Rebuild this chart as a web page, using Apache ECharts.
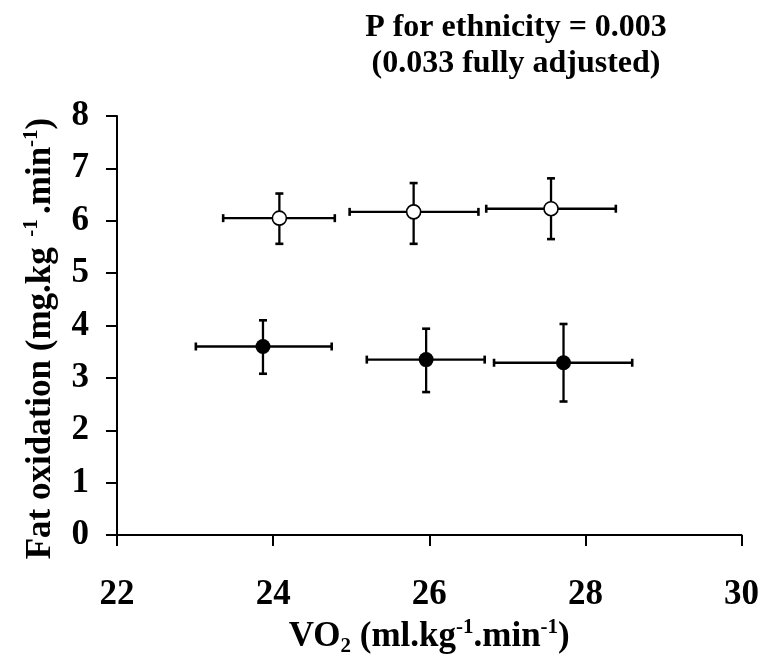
<!DOCTYPE html>
<html>
<head>
<meta charset="utf-8">
<script src="https://cdn.jsdelivr.net/npm/echarts@6/dist/echarts.min.js"></script>
<style>
  html, body { margin: 0; padding: 0; background: #fff; }
  #chart { width: 762px; height: 662px; }
</style>
</head>
<body>
<div id="chart"></div>
<script>
// ---- Data ----
const xTicks = [22, 24, 26, 28, 30];
const yTicks = [0, 1, 2, 3, 4, 5, 6, 7, 8];

// Open circles
const vo2Open    = [24.08, 25.80, 27.56];
const fatOpen    = [6.05, 6.17, 6.23];
const vo2OpenLo  = [23.36, 24.98, 26.73];
const vo2OpenHi  = [24.79, 26.63, 28.39];
const fatOpenLo  = [5.56, 5.56, 5.65];
const fatOpenHi  = [6.52, 6.72, 6.81];

// Filled circles
const vo2Filled   = [23.87, 25.96, 27.72];
const fatFilled   = [3.60, 3.35, 3.29];
const vo2FilledLo = [23.01, 25.20, 26.83];
const vo2FilledHi = [24.75, 26.71, 28.60];
const fatFilledLo = [3.08, 2.73, 2.55];
const fatFilledHi = [4.10, 3.94, 4.03];

const titleLines = ['P for ethnicity = 0.003', '(0.033 fully adjusted)'];

// ---- Build ----
const FONT = '"Liberation Serif", "Times New Roman", serif';

function errData(x, y, xlo, xhi, ylo, yhi) {
  return x.map((v, i) => [v, y[i], xlo[i], xhi[i], ylo[i], yhi[i]]);
}
const openErr = errData(vo2Open, fatOpen, vo2OpenLo, vo2OpenHi, fatOpenLo, fatOpenHi);
const filledErr = errData(vo2Filled, fatFilled, vo2FilledLo, vo2FilledHi, fatFilledLo, fatFilledHi);

function renderErr(params, api) {
  const y = api.value(1), x = api.value(0);
  const l = api.coord([api.value(2), y]);
  const r = api.coord([api.value(3), y]);
  const b = api.coord([x, api.value(4)]);
  const t = api.coord([x, api.value(5)]);
  const cap = 4;
  const st = { stroke: '#000', lineWidth: 2.3 };
  const capSt = { stroke: '#000', lineWidth: 2.6 };
  return {
    type: 'group',
    children: [
      { type: 'line', shape: { x1: l[0], y1: l[1], x2: r[0], y2: r[1] }, style: st },
      { type: 'line', shape: { x1: l[0], y1: l[1] - cap, x2: l[0], y2: l[1] + cap }, style: capSt },
      { type: 'line', shape: { x1: r[0], y1: r[1] - cap, x2: r[0], y2: r[1] + cap }, style: capSt },
      { type: 'line', shape: { x1: t[0], y1: t[1], x2: b[0], y2: b[1] }, style: st },
      { type: 'line', shape: { x1: t[0] - cap, y1: t[1], x2: t[0] + cap, y2: t[1] }, style: capSt },
      { type: 'line', shape: { x1: b[0] - cap, y1: b[1], x2: b[0] + cap, y2: b[1] }, style: capSt }
    ]
  };
}

const richStyles = {
  m:   { fontSize: 35, fontWeight: 'bold', fontFamily: FONT, color: '#000', lineHeight: 40 },
  sup: { fontSize: 21, fontWeight: 'bold', fontFamily: FONT, color: '#000', lineHeight: 22, verticalAlign: 'top' },
  sub: { fontSize: 21, fontWeight: 'bold', fontFamily: FONT, color: '#000', lineHeight: 22, verticalAlign: 'bottom' }
};

const chart = echarts.init(document.getElementById('chart'), null, { renderer: 'canvas' });

chart.setOption({
  animation: false,
  backgroundColor: '#fff',
  grid: { left: 117, right: 20, top: 116, bottom: 116, containLabel: false },
  graphic: [
    {
      type: 'text', x: 516, y: 10,
      style: {
        text: titleLines.join('\n'),
        fontSize: 32, fontWeight: 'bold', fontFamily: FONT, fill: '#000',
        align: 'center', lineHeight: 36
      }
    }
  ],
  xAxis: {
    type: 'value',
    min: xTicks[0], max: xTicks[xTicks.length - 1], interval: 2,
    splitLine: { show: false },
    axisLine: { show: true, onZero: false, lineStyle: { color: '#000', width: 2 } },
    axisTick: { show: true, inside: false, length: 11, lineStyle: { color: '#000', width: 2 } },
    axisLabel: { fontSize: 35, fontWeight: 'bold', fontFamily: FONT, color: '#000', margin: 42 },
    name: '{m|VO}{sub|2}{m| (ml.kg}{sup|-1}{m|.min}{sup|-1}{m|)}',
    nameLocation: 'middle',
    nameGap: 72,
    nameTextStyle: { rich: richStyles }
  },
  yAxis: {
    type: 'value',
    min: yTicks[0], max: yTicks[yTicks.length - 1], interval: 1,
    splitLine: { show: false },
    axisLine: { show: true, onZero: false, lineStyle: { color: '#000', width: 2 } },
    axisTick: { show: true, inside: false, length: 11, lineStyle: { color: '#000', width: 2 } },
    axisLabel: { fontSize: 35, fontWeight: 'bold', fontFamily: FONT, color: '#000', margin: 28 },
    name: '{m|Fat oxidation (mg.kg}{sup|  -1 }{m|.min}{sup|-1}{m|)}',
    nameLocation: 'middle',
    nameRotate: 90,
    nameGap: 56,
    nameTextStyle: { rich: richStyles, padding: [0, 26, 0, 0] }
  },
  series: [
    { type: 'custom', renderItem: renderErr, data: openErr, z: 2, silent: true },
    { type: 'custom', renderItem: renderErr, data: filledErr, z: 2, silent: true },
    {
      type: 'scatter', z: 5,
      data: vo2Open.map((v, i) => [v, fatOpen[i]]),
      symbol: 'circle', symbolSize: 14,
      itemStyle: { color: '#fff', borderColor: '#000', borderWidth: 1.6, opacity: 1 }
    },
    {
      type: 'scatter', z: 5,
      data: vo2Filled.map((v, i) => [v, fatFilled[i]]),
      symbol: 'circle', symbolSize: 15,
      itemStyle: { color: '#000', borderColor: '#000', borderWidth: 0, opacity: 1 }
    }
  ]
});
</script>
</body>
</html>
